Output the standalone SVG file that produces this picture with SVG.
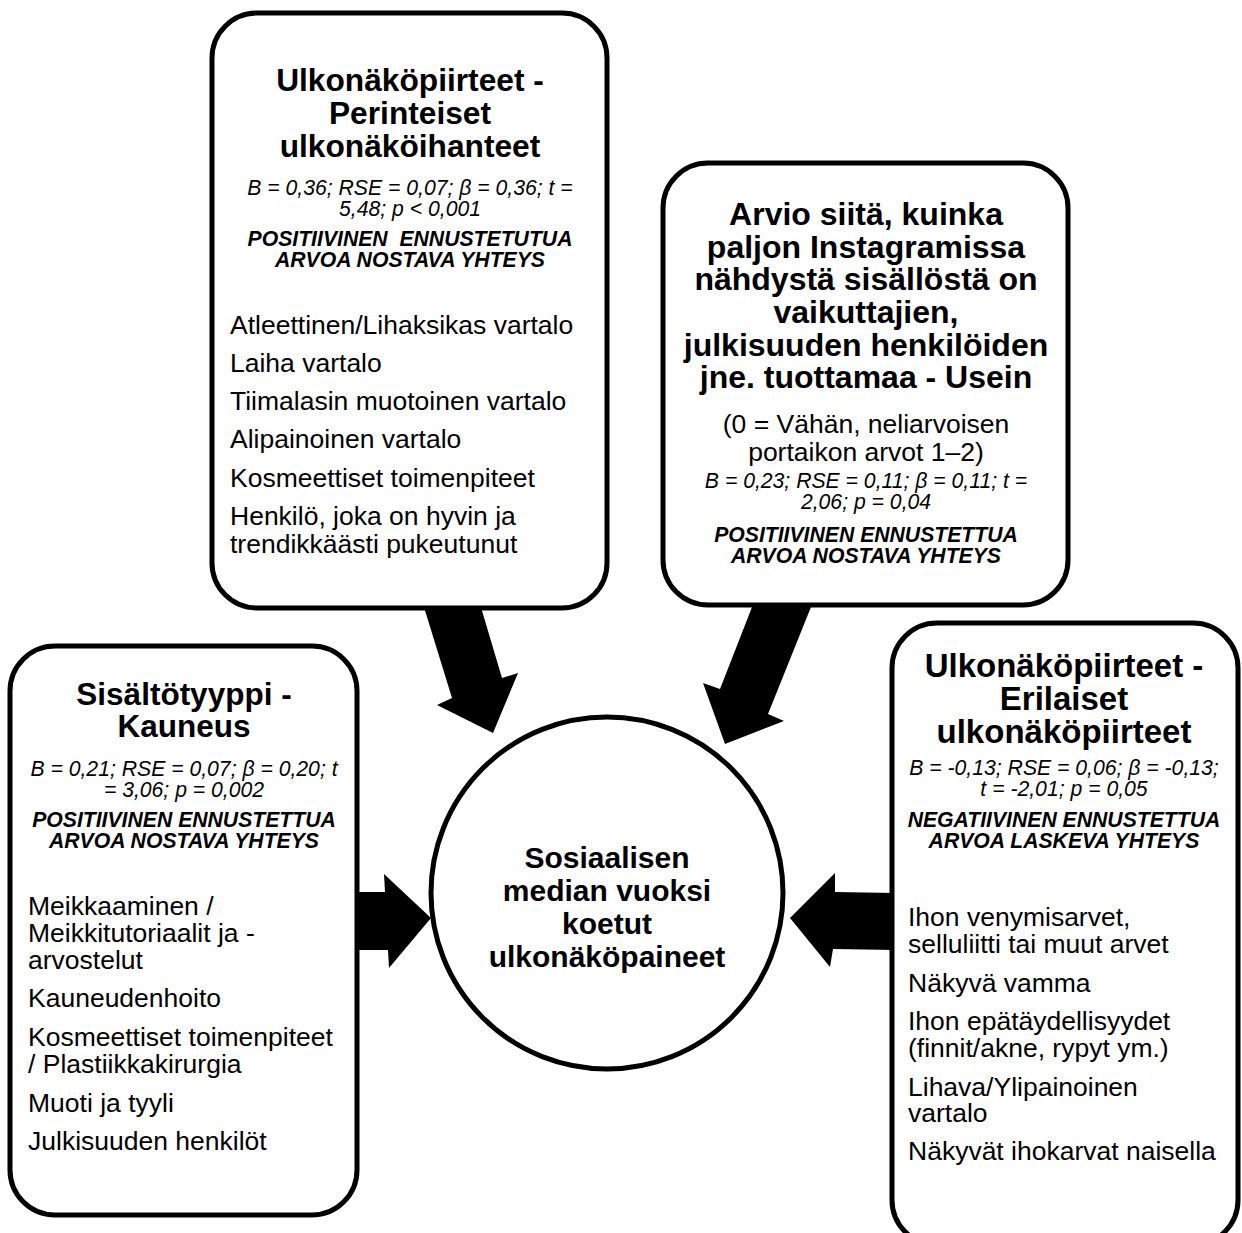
<svg xmlns="http://www.w3.org/2000/svg" width="1242" height="1233" viewBox="0 0 1242 1233">
<style>
text{font-family:"Liberation Sans",Arial,sans-serif;fill:#000}
.box{fill:#fff;stroke:#000;stroke-width:5}
.arrow{fill:#000;stroke:none}
.t{font-weight:bold;text-anchor:middle}
.st{font-style:italic;font-size:21.2px;text-anchor:middle}
.bi{font-style:italic;font-weight:bold;font-size:21.2px;text-anchor:middle}
.li{font-size:26.5px}
.c{text-anchor:middle}
</style>
<rect width="1242" height="1233" fill="#fff"/>
<g id="connectors">
<polygon class="arrow" points="423,604 480,604 502,678 518,673 493,733 437,705 452,698"/>
<polygon class="arrow" points="754,602 813,602 768,714 784,721 725,744 703,683 720,689"/>
<polygon class="arrow" points="352,892 385,892 384,874 431,918 389,968 388,950 352,950"/>
<polygon class="arrow" points="895,893 835,892 835,873 790,918 830,967 833,949 895,950"/>
</g>
<g id="node-perinteiset">
<rect class="box" x="212" y="13" width="395" height="595" rx="45"/>
<text class="t" style="font-size:31.7px" x="410" y="91">Ulkonäköpiirteet -</text>
<text class="t" style="font-size:31.7px" x="410" y="124">Perinteiset</text>
<text class="t" style="font-size:31.7px" x="410" y="157">ulkonäköihanteet</text>
<text class="st" x="410" y="195">B = 0,36; RSE = 0,07; β = 0,36; t =</text>
<text class="st" x="410" y="216">5,48; p &lt; 0,001</text>
<text class="bi" x="410" y="246" xml:space="preserve">POSITIIVINEN  ENNUSTETUTUA</text>
<text class="bi" x="410" y="267">ARVOA NOSTAVA YHTEYS</text>
<text class="li" x="230" y="334">Atleettinen/Lihaksikas vartalo</text>
<text class="li" x="230" y="372">Laiha vartalo</text>
<text class="li" x="230" y="410">Tiimalasin muotoinen vartalo</text>
<text class="li" x="230" y="448">Alipainoinen vartalo</text>
<text class="li" x="230" y="487">Kosmeettiset toimenpiteet</text>
<text class="li" x="230" y="525">Henkilö, joka on hyvin ja</text>
<text class="li" x="230" y="553">trendikkäästi pukeutunut</text>
</g>
<g id="node-vaikuttajat">
<rect class="box" x="663" y="163" width="405" height="442" rx="45"/>
<text class="t" style="font-size:32px" x="866" y="225">Arvio siitä, kuinka</text>
<text class="t" style="font-size:32px" x="866" y="258">paljon Instagramissa</text>
<text class="t" style="font-size:32px" x="866" y="290">nähdystä sisällöstä on</text>
<text class="t" style="font-size:32px" x="866" y="323">vaikuttajien,</text>
<text class="t" style="font-size:32px" x="866" y="356">julkisuuden henkilöiden</text>
<text class="t" style="font-size:32px" x="866" y="388">jne. tuottamaa - Usein</text>
<text class="c li" x="866" y="433">(0 = Vähän, neliarvoisen</text>
<text class="c li" x="866" y="461">portaikon arvot 1–2)</text>
<text class="st" x="866" y="488">B = 0,23; RSE = 0,11; β = 0,11; t =</text>
<text class="st" x="866" y="509">2,06; p = 0,04</text>
<text class="bi" x="866" y="542">POSITIIVINEN ENNUSTETTUA</text>
<text class="bi" x="866" y="563">ARVOA NOSTAVA YHTEYS</text>
</g>
<g id="node-kauneus">
<rect class="box" x="10" y="646" width="347" height="569" rx="45"/>
<text class="t" style="font-size:31.5px" x="184" y="705">Sisältötyyppi -</text>
<text class="t" style="font-size:31.5px" x="184" y="737">Kauneus</text>
<text class="st" x="184" y="776">B = 0,21; RSE = 0,07; β = 0,20; t</text>
<text class="st" x="184" y="797">= 3,06; p = 0,002</text>
<text class="bi" x="184" y="827">POSITIIVINEN ENNUSTETTUA</text>
<text class="bi" x="184" y="848">ARVOA NOSTAVA YHTEYS</text>
<text class="li" x="28" y="915">Meikkaaminen /</text>
<text class="li" x="28" y="942">Meikkitutoriaalit ja -</text>
<text class="li" x="28" y="969">arvostelut</text>
<text class="li" x="28" y="1007">Kauneudenhoito</text>
<text class="li" x="28" y="1046">Kosmeettiset toimenpiteet</text>
<text class="li" x="28" y="1073">/ Plastiikkakirurgia</text>
<text class="li" x="28" y="1112">Muoti ja tyyli</text>
<text class="li" x="28" y="1150">Julkisuuden henkilöt</text>
</g>
<g id="node-erilaiset">
<rect class="box" x="892" y="623" width="346" height="622" rx="45"/>
<text class="t" style="font-size:33px" x="1064" y="677">Ulkonäköpiirteet -</text>
<text class="t" style="font-size:33px" x="1064" y="710">Erilaiset</text>
<text class="t" style="font-size:33px" x="1064" y="743">ulkonäköpiirteet</text>
<text class="st" x="1064" y="775">B = -0,13; RSE = 0,06; β = -0,13;</text>
<text class="st" x="1064" y="796">t = -2,01; p = 0,05</text>
<text class="bi" x="1064" y="827">NEGATIIVINEN ENNUSTETTUA</text>
<text class="bi" x="1064" y="848">ARVOA LASKEVA YHTEYS</text>
<text class="li" x="908" y="926">Ihon venymisarvet,</text>
<text class="li" x="908" y="953">selluliitti tai muut arvet</text>
<text class="li" x="908" y="992">Näkyvä vamma</text>
<text class="li" x="908" y="1030">Ihon epätäydellisyydet</text>
<text class="li" x="908" y="1057">(finnit/akne, rypyt ym.)</text>
<text class="li" x="908" y="1096">Lihava/Ylipainoinen</text>
<text class="li" x="908" y="1122">vartalo</text>
<text class="li" x="908" y="1160">Näkyvät ihokarvat naisella</text>
</g>
<g id="node-paineet">
<circle class="box" cx="607" cy="893" r="176"/>
<text class="t" style="font-size:30px" x="607" y="868">Sosiaalisen</text>
<text class="t" style="font-size:30px" x="607" y="901">median vuoksi</text>
<text class="t" style="font-size:30px" x="607" y="934">koetut</text>
<text class="t" style="font-size:30px" x="607" y="967">ulkonäköpaineet</text>
</g>
</svg>
